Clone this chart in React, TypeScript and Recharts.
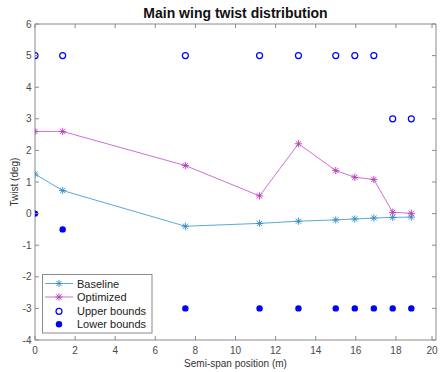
import React from 'react';
import { ComposedChart, Line, Scatter, XAxis, YAxis, Legend } from 'recharts';

const positions = [0, 1.38, 7.5, 11.2, 13.14, 15.0, 15.95, 16.9, 17.84, 18.77];
const baseline = [1.25, 0.73, -0.4, -0.31, -0.24, -0.2, -0.17, -0.14, -0.12, -0.11];
const optimized = [2.6, 2.6, 1.52, 0.56, 2.21, 1.36, 1.15, 1.08, 0.04, 0.01];
const upperBounds = [5, 5, 5, 5, 5, 5, 5, 5, 3, 3];
const lowerBounds = [0, -0.5, -3, -3, -3, -3, -3, -3, -3, -3];
const xTicks = [0, 2, 4, 6, 8, 10, 12, 14, 16, 18, 20];
const yTicks = [-4, -3, -2, -1, 0, 1, 2, 3, 4, 5, 6];

const title = 'Main wing twist distribution';
const xLabel = 'Semi-span position (m)';
const yLabel = 'Twist (deg)';

const FONT = '"Liberation Sans", Arial, sans-serif';
const BLUE_LINE = '#5aaad6';
const BLUE_MARK = '#2f8cc4';
const MAG_LINE = '#d070d6';
const MAG_MARK = '#b838b8';
const BOUND = '#0000ff';
const AXIS = '#8a8a8a';
const TEXT = '#4a4a4a';

const toPts = (ys: number[]) => positions.map((x, i) => ({ x, y: ys[i] }));
const baseData = toPts(baseline);
const optData = toPts(optimized);
const upData = toPts(upperBounds);
const lowData = toPts(lowerBounds);

const Star = (color: string) => (props: any) => {
  const { cx, cy } = props;
  if (cx == null || cy == null) return <g />;
  const r = 3.6;
  const d = r * 0.72;
  return (
    <g stroke={color} strokeWidth={0.9}>
      <line x1={cx - r} y1={cy} x2={cx + r} y2={cy} />
      <line x1={cx} y1={cy - r} x2={cx} y2={cy + r} />
      <line x1={cx - d} y1={cy - d} x2={cx + d} y2={cy + d} />
      <line x1={cx - d} y1={cy + d} x2={cx + d} y2={cy - d} />
    </g>
  );
};

const OpenCircle = (props: any) => (
  <circle cx={props.cx} cy={props.cy} r={3} fill="none" stroke={BOUND} strokeWidth={1.2} />
);
const FilledCircle = (props: any) => (
  <circle cx={props.cx} cy={props.cy} r={3.2} fill={BOUND} stroke="none" />
);

const BottomTick = (props: any) => {
  const { x, y, payload } = props;
  return (
    <g>
      <line x1={x} x2={x} y1={y} y2={y - 4} stroke={AXIS} />
      <text x={x} y={y + 13.5} textAnchor="middle" fontSize={10} fill={TEXT} fontFamily={FONT}>
        {payload.value}
      </text>
    </g>
  );
};
const TopTick = (props: any) => {
  const { x, y } = props;
  return <line x1={x} x2={x} y1={y} y2={y + 4} stroke={AXIS} />;
};
const LeftTick = (props: any) => {
  const { x, y, payload } = props;
  return (
    <g>
      <line x1={x} x2={x + 4} y1={y} y2={y} stroke={AXIS} />
      <text x={x - 3.5} y={y + 3.5} textAnchor="end" fontSize={10} fill={TEXT} fontFamily={FONT}>
        {payload.value}
      </text>
    </g>
  );
};
const RightTick = (props: any) => {
  const { x, y } = props;
  return <line x1={x} x2={x - 4} y1={y} y2={y} stroke={AXIS} />;
};

const legendItems = [
  { name: 'Baseline', kind: 'line', line: BLUE_LINE, mark: BLUE_MARK },
  { name: 'Optimized', kind: 'line', line: MAG_LINE, mark: MAG_MARK },
  { name: 'Upper bounds', kind: 'open' },
  { name: 'Lower bounds', kind: 'filled' },
];

const LegendBox = () => {
  const rows = [9.5, 23, 37.3, 50.3];
  return (
    <svg width={111} height={60} style={{ display: 'block' }}>
      <rect x={0.5} y={0.5} width={109.5} height={58.5} fill="#fff" stroke={AXIS} strokeWidth={1} />
      {legendItems.map((it, i) => {
        const y = rows[i];
        let marker: any = null;
        if (it.kind === 'line') {
          marker = (
            <g>
              <line x1={3} x2={31} y1={y} y2={y} stroke={it.line} strokeWidth={1} />
              {Star(it.mark as string)({ cx: 17, cy: y })}
            </g>
          );
        } else if (it.kind === 'open') {
          marker = <OpenCircle cx={17} cy={y} />;
        } else {
          marker = <FilledCircle cx={17} cy={y} />;
        }
        return (
          <g key={it.name}>
            {marker}
            <text x={35} y={y + 4} fontSize={11} fill="#222" fontFamily={FONT}>
              {it.name}
            </text>
          </g>
        );
      })}
    </svg>
  );
};

export default function App() {
  return (
    <div style={{ position: 'absolute', left: 0, top: 0, width: 440, height: 372, background: '#fff' }}>
      <ComposedChart
        width={440}
        height={372}
        margin={{ top: 23, right: 3, bottom: 0, left: 0 }}
        style={{ fontFamily: FONT }}
      >
        <XAxis
          xAxisId="bottom"
          dataKey="x"
          type="number"
          domain={[0, 20]}
          ticks={xTicks}
          allowDataOverflow
          orientation="bottom"
          height={32}
          tickSize={0}
          tickMargin={0}
          tickLine={false}
          axisLine={{ stroke: AXIS }}
          tick={<BottomTick />}
          label={(p: any) => {
            const vb = p.viewBox;
            return (
              <text x={vb.x + vb.width / 2} y={vb.y + 26.5} textAnchor="middle" fontSize={10} fill="#333" fontFamily={FONT}>
                {xLabel}
              </text>
            );
          }}
        />
        <XAxis
          xAxisId="top"
          dataKey="x"
          type="number"
          domain={[0, 20]}
          ticks={xTicks}
          allowDataOverflow
          orientation="top"
          height={1}
          tickSize={0}
          tickMargin={0}
          tickLine={false}
          axisLine={{ stroke: AXIS }}
          tick={<TopTick />}
          label={(p: any) => {
            const vb = p.viewBox;
            return (
              <text x={vb.x + vb.width / 2} y={vb.y - 5} textAnchor="middle" fontSize={14} fontWeight="bold" fill="#111" fontFamily={FONT}>
                {title}
              </text>
            );
          }}
        />
        <YAxis
          yAxisId="left"
          dataKey="y"
          type="number"
          domain={[-4, 6]}
          ticks={yTicks}
          allowDataOverflow
          orientation="left"
          width={35}
          tickSize={0}
          tickMargin={0}
          tickLine={false}
          axisLine={{ stroke: AXIS }}
          tick={<LeftTick />}
          label={(p: any) => {
            const vb = p.viewBox;
            const cx = vb.x + 14;
            const cy = vb.y + vb.height / 2;
            return (
              <text x={cx} y={cy} textAnchor="middle" dominantBaseline="central" transform={`rotate(-90 ${cx} ${cy})`} fontSize={10} fill="#333" fontFamily={FONT}>
                {yLabel}
              </text>
            );
          }}
        />
        <YAxis
          yAxisId="right"
          dataKey="y"
          type="number"
          domain={[-4, 6]}
          ticks={yTicks}
          allowDataOverflow
          orientation="right"
          width={1}
          tickSize={0}
          tickMargin={0}
          tickLine={false}
          axisLine={{ stroke: AXIS }}
          tick={<RightTick />}
        />
        <Legend
          layout="horizontal"
          verticalAlign="middle"
          align="center"
          wrapperStyle={{ position: 'absolute', left: 42, top: 274, width: 111, height: 60 }}
          content={() => <LegendBox />}
        />
        <Line
          xAxisId="bottom"
          yAxisId="left"
          data={baseData}
          dataKey="y"
          name="Baseline"
          type="linear"
          stroke={BLUE_LINE}
          strokeWidth={1}
          dot={Star(BLUE_MARK)}
          activeDot={false}
          isAnimationActive={false}
        />
        <Line
          xAxisId="bottom"
          yAxisId="left"
          data={optData}
          dataKey="y"
          name="Optimized"
          type="linear"
          stroke={MAG_LINE}
          strokeWidth={1}
          dot={Star(MAG_MARK)}
          activeDot={false}
          isAnimationActive={false}
        />
        <Scatter
          xAxisId="top"
          yAxisId="right"
          data={upData}
          dataKey="y"
          name="Upper bounds"
          shape={OpenCircle}
          isAnimationActive={false}
        />
        <Scatter
          xAxisId="bottom"
          yAxisId="left"
          data={lowData}
          dataKey="y"
          name="Lower bounds"
          shape={FilledCircle}
          isAnimationActive={false}
        />
      </ComposedChart>
    </div>
  );
}
